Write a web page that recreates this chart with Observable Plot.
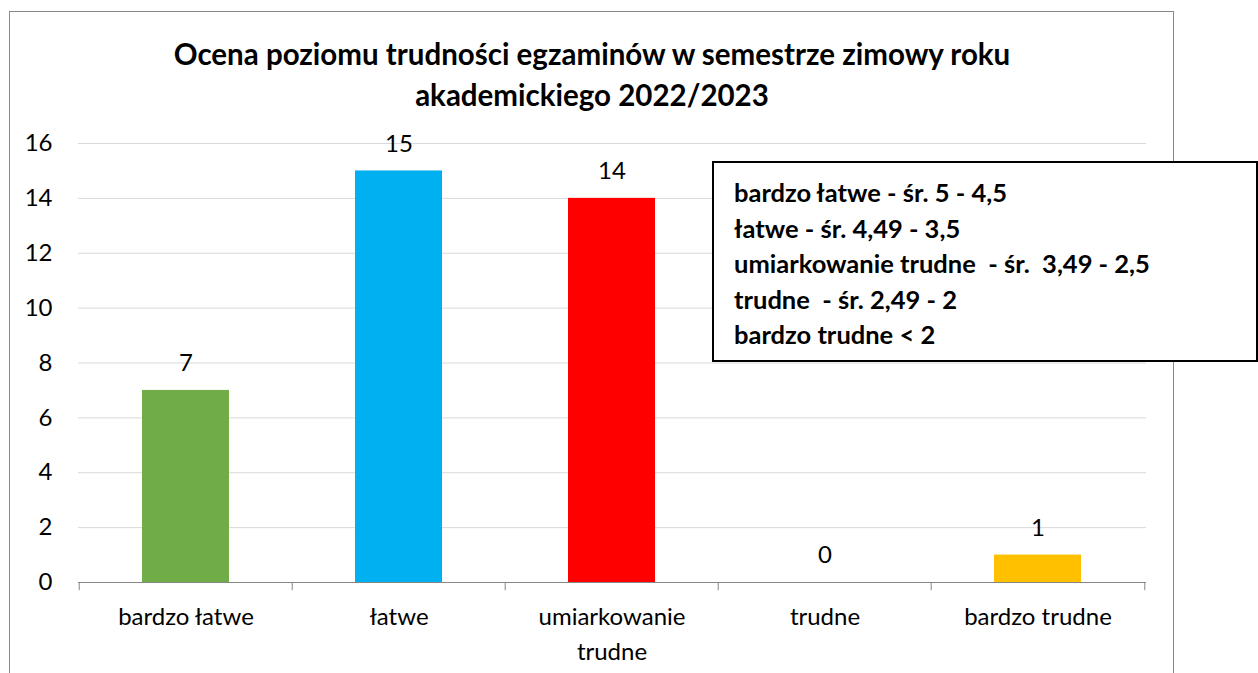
<!DOCTYPE html>
<html>
<head>
<meta charset="utf-8">
<script src="https://cdn.jsdelivr.net/npm/d3@7"></script>
<script src="https://cdn.jsdelivr.net/npm/@observablehq/plot@0.6"></script>
<style>
  html, body { margin: 0; padding: 0; background: #fff; }
  #wrap { position: relative; width: 1258px; height: 673px; overflow: hidden; font-family: Lato, "Open Sans", sans-serif; }
  #frame { position: absolute; left: 9px; top: 11px; width: 1165px; height: 700px; border: 1px solid #888; box-sizing: border-box; }
  #title { position: absolute; left: 42px; width: 1100px; top: 33px; text-align: center; font-weight: bold; font-size: 29.5px; line-height: 41px; color: #000; }
  #chart { position: absolute; left: 0; top: 0; }
  #legend { position: absolute; left: 712px; top: 161px; width: 546px; height: 201px; border: 2px solid #000; box-sizing: border-box; background: #fff; padding: 12px 0 0 20px; font-weight: bold; font-size: 25.5px; line-height: 35.6px; color: #000; white-space: pre; }
</style>
</head>
<body>
<div id="wrap">
  <div id="frame"></div>
  <div id="chart"></div>
  <div id="title">Ocena poziomu trudności egzaminów w semestrze zimowy roku<br>akademickiego 2022/2023</div>
  <div id="legend"></div>
</div>
<script>
const categories = ["bardzo łatwe", "łatwe", "umiarkowanie trudne", "trudne", "bardzo trudne"];
const tickLabels = ["bardzo łatwe", "łatwe", "umiarkowanie\ntrudne", "trudne", "bardzo trudne"];
const values = [7, 15, 14, 0, 1];
const colors = ["#70AD47", "#00B0F0", "#FF0000", "#FFC000", "#FFC000"];
const yTicks = [0, 2, 4, 6, 8, 10, 12, 14, 16];
const legendLines = [
  "bardzo łatwe - śr. 5 - 4,5",
  "łatwe - śr. 4,49 - 3,5",
  "umiarkowanie trudne  - śr.  3,49 - 2,5",
  "trudne  - śr. 2,49 - 2",
  "bardzo trudne < 2"
];

const data = categories.map((c, i) => ({cat: c, value: values[i], color: colors[i]}));
const W = 1258, H = 673, mL = 78, mR = 112, mT = 143, mB = 91;
const band = (W - mL - mR) / categories.length;
const boundaries = categories.map((c, i) => ({cat: c, dx: -band / 2})).concat([{cat: categories[categories.length - 1], dx: band / 2}]);
const FONT = "Lato, 'Open Sans', sans-serif";

const plot = Plot.plot({
  width: W, height: H,
  marginLeft: mL, marginRight: mR, marginTop: mT, marginBottom: mB,
  style: {fontFamily: FONT, fontSize: "24px", color: "#000", background: "transparent", overflow: "visible"},
  x: {domain: categories, paddingInner: 0.59, paddingOuter: 0.295, label: null},
  y: {domain: [0, 16], label: null},
  marks: [
    Plot.gridY(yTicks.filter(d => d > 0), {stroke: "#d9d9d9", strokeOpacity: 1, strokeWidth: 1}),
    Plot.barY(data, {x: "cat", y: "value", fill: "color"}),
    Plot.ruleY([0], {stroke: "#868686", strokeWidth: 1}),
    ...boundaries.map(b => Plot.ruleX([b], {x: "cat", y1: 0, y2: -0.3, stroke: "#868686", strokeWidth: 1, dx: b.dx})),
    Plot.text(data, {x: "cat", y: "value", text: d => String(d.value), dy: -27, fontSize: 24, fill: "#000"}),
    Plot.axisY(yTicks, {tickSize: 0, tickPadding: 26, fontSize: 24, fill: "#000", label: null}),
    Plot.axisX({tickSize: 0, tickPadding: 18, fontSize: 24, fill: "#000", label: null,
      tickFormat: d => tickLabels[categories.indexOf(d)], lineHeight: 1.46})
  ]
});
document.getElementById("chart").appendChild(plot);
document.getElementById("legend").textContent = legendLines.join("\n");
</script>
</body>
</html>
